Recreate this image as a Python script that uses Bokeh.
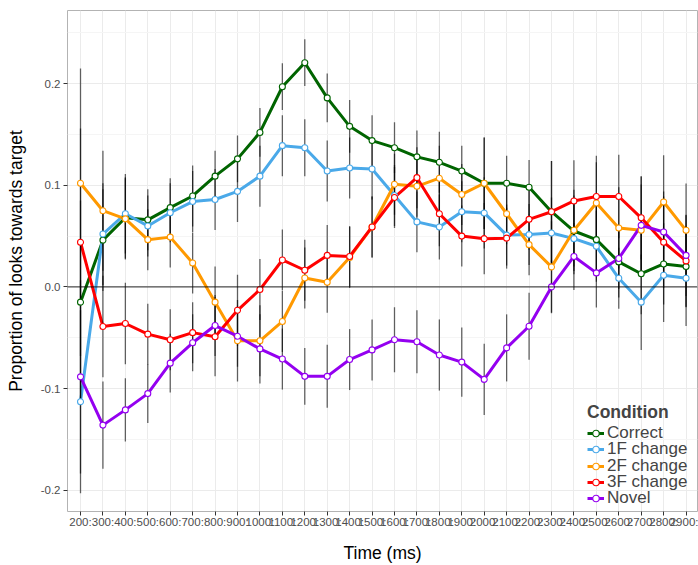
from bokeh.plotting import figure
from bokeh.models import (Range1d, FixedTicker, Span, Legend, LegendItem,
                          NumeralTickFormatter)
from bokeh.embed import file_html
from bokeh.resources import INLINE

# Time bins (ms) on the x axis
time_labels = ["200:", "300:", "400:", "500:", "600:", "700:", "800:", "900:",
               "1000:", "1100:", "1200:", "1300:", "1400:", "1500:", "1600:",
               "1700:", "1800:", "1900:", "2000:", "2100:", "2200:", "2300:",
               "2400:", "2500:", "2600:", "2700:", "2800:", "2900:"]

conditions = ["Correct", "1F change", "2F change", "3F change", "Novel"]
colors = ["#006400", "#4aa9e9", "#ff9900", "#ff0000", "#9400f0"]

# Mean proportion of looks towards target per condition
correct = [-0.015, 0.046, 0.068, 0.066, 0.078, 0.0895, 0.109, 0.126, 0.152, 0.197,
           0.2206, 0.186, 0.158, 0.144, 0.137, 0.128, 0.1226, 0.114, 0.102, 0.102,
           0.098, 0.074, 0.055, 0.0465, 0.0246, 0.013, 0.0226, 0.020]
change_1f = [-0.113, 0.052, 0.072, 0.060, 0.073, 0.084, 0.086, 0.094, 0.109, 0.139,
             0.137, 0.114, 0.117, 0.116, 0.090, 0.064, 0.059, 0.074, 0.0728, 0.051,
             0.0515, 0.053, 0.0475, 0.040, 0.0085, -0.015, 0.0115, 0.0085]
change_2f = [0.102, 0.075, 0.067, 0.0465, 0.049, 0.0236, -0.015, -0.053, -0.053, -0.034,
             0.0088, 0.0046, 0.029, 0.059, 0.101, 0.099, 0.107, 0.091, 0.102, 0.072,
             0.0416, 0.0197, 0.0557, 0.0826, 0.058, 0.0557, 0.0836, 0.0557]
change_3f = [0.044, -0.039, -0.036, -0.0465, -0.052, -0.045, -0.049, -0.023, -0.0026, 0.0265,
             0.0164, 0.031, 0.030, 0.059, 0.088, 0.1075, 0.072, 0.050, 0.0475, 0.048,
             0.0665, 0.074, 0.0846, 0.089, 0.089, 0.068, 0.044, 0.0256]
novel = [-0.0885, -0.136, -0.121, -0.105, -0.075, -0.055, -0.038, -0.0485, -0.061, -0.071,
         -0.088, -0.088, -0.0715, -0.062, -0.052, -0.054, -0.067, -0.074, -0.091, -0.060,
         -0.0387, 0.0, 0.030, 0.0138, 0.028, 0.0606, 0.054, 0.031]

# Half-widths of the error bars per condition
err_correct = [0.100, 0.050, 0.040, 0.030, 0.029, 0.030, 0.025, 0.023, 0.024, 0.023,
               0.023, 0.024, 0.026, 0.025, 0.025, 0.026, 0.030, 0.025, 0.045, 0.027,
               0.027, 0.050, 0.035, 0.035, 0.035, 0.040, 0.040, 0.040]
err_1f = [0.090, 0.050, 0.039, 0.030, 0.029, 0.030, 0.030, 0.030, 0.030, 0.030,
          0.028, 0.030, 0.030, 0.030, 0.030, 0.030, 0.032, 0.030, 0.035, 0.030,
          0.030, 0.035, 0.035, 0.035, 0.030, 0.047, 0.046, 0.047]
err_2f = [0.113, 0.059, 0.040, 0.030, 0.030, 0.030, 0.035, 0.040, 0.035, 0.030,
          0.030, 0.030, 0.030, 0.030, 0.030, 0.030, 0.032, 0.030, 0.045, 0.030,
          0.030, 0.045, 0.040, 0.040, 0.040, 0.045, 0.046, 0.046]
err_3f = [0.112, 0.050, 0.040, 0.030, 0.030, 0.030, 0.039, 0.035, 0.030, 0.030,
          0.030, 0.030, 0.030, 0.030, 0.030, 0.030, 0.032, 0.030, 0.035, 0.030,
          0.030, 0.050, 0.040, 0.040, 0.041, 0.041, 0.045, 0.045]
err_novel = [0.095, 0.043, 0.031, 0.029, 0.029, 0.028, 0.030, 0.030, 0.034, 0.030,
             0.028, 0.031, 0.030, 0.030, 0.032, 0.031, 0.035, 0.034, 0.035, 0.033,
             0.033, 0.026, 0.033, 0.034, 0.030, 0.048, 0.040, 0.040]

series = [correct, change_1f, change_2f, change_3f, novel]
errors = [err_correct, err_1f, err_2f, err_3f, err_novel]
xs = list(range(len(time_labels)))

FONT = "Liberation Sans"

p = figure(width=698, height=565, output_backend="svg", toolbar_location=None,
           x_range=Range1d(-0.58, len(time_labels) - 0.49),
           y_range=Range1d(-0.221, 0.272),
           min_border_left=67, min_border_right=1, min_border_top=10,
           min_border_bottom=52)

p.background_fill_color = "white"
p.border_fill_color = "white"
p.outline_line_color = "#b3b3b3"
p.outline_line_width = 1

# grid
p.xaxis.ticker = FixedTicker(ticks=xs)
p.xaxis.major_label_overrides = {i: lab for i, lab in enumerate(time_labels)}
p.yaxis.ticker = FixedTicker(ticks=[-0.2, -0.1, 0.0, 0.1, 0.2],
                             minor_ticks=[-0.15, -0.05, 0.05, 0.15, 0.25])
p.yaxis.formatter = NumeralTickFormatter(format="0.0")
p.xgrid.grid_line_color = "#ebebeb"
p.ygrid.grid_line_color = "#ebebeb"
p.ygrid.minor_grid_line_color = "#f5f5f5"

for ax in (p.xaxis, p.yaxis):
    ax.axis_line_color = None
    ax.major_tick_line_color = "#333333"
    ax.major_tick_out = 4
    ax.major_tick_in = 0
    ax.minor_tick_line_color = None
    ax.major_label_text_font = FONT
    ax.major_label_text_font_size = "11.5px"
    ax.major_label_text_color = "#4d4d4d"
    ax.axis_label_text_font = FONT
    ax.axis_label_text_font_size = "17.5px"
    ax.axis_label_text_font_style = "normal"
    ax.axis_label_text_color = "black"

p.xaxis.major_label_standoff = 0
p.yaxis.major_label_standoff = 3
p.xaxis.axis_label = "Time (ms)"
p.yaxis.axis_label = "Proportion of looks towards target"
p.xaxis.axis_label_standoff = 12
p.yaxis.axis_label_standoff = 12

# zero reference line
p.add_layout(Span(location=0, dimension="width", line_color="black",
                  line_width=1, line_alpha=0.85))

line_renderers = []
for vals, col in zip(series, colors):
    line_renderers.append(p.line(xs, vals, line_color=col, line_width=3))

# error bars
for vals, errs in zip(series, errors):
    lo = [v - e for v, e in zip(vals, errs)]
    hi = [v + e for v, e in zip(vals, errs)]
    p.segment(x0=xs, y0=lo, x1=xs, y1=hi, line_color="black",
              line_width=1.3, line_alpha=0.6)

point_renderers = []
for vals, col in zip(series, colors):
    point_renderers.append(p.scatter(xs, vals, size=6, fill_color="white",
                                     line_color=col, line_width=1.1))

# Legend: one stacked entry per condition so the rows sit tightly together
row_step = 16.2
n = len(conditions)
for k, (name, lr, pr) in enumerate(zip(conditions, line_renderers, point_renderers)):
    extra = {}
    if k == 0:
        extra = dict(title="Condition", title_text_font=FONT,
                     title_text_font_style="bold", title_text_font_size="17.5px",
                     title_standoff=-5)
    leg = Legend(items=[LegendItem(label=name, renderers=[lr, pr])],
                 location=(520, 3 + row_step * (n - 1 - k)),
                 label_text_font=FONT, label_text_font_size="17px",
                 glyph_width=17, glyph_height=16, label_height=16,
                 label_standoff=3, spacing=0, padding=0, margin=0,
                 background_fill_alpha=0, border_line_color=None, **extra)
    p.add_layout(leg)

open("out.html", "w").write(file_html(p, INLINE))
